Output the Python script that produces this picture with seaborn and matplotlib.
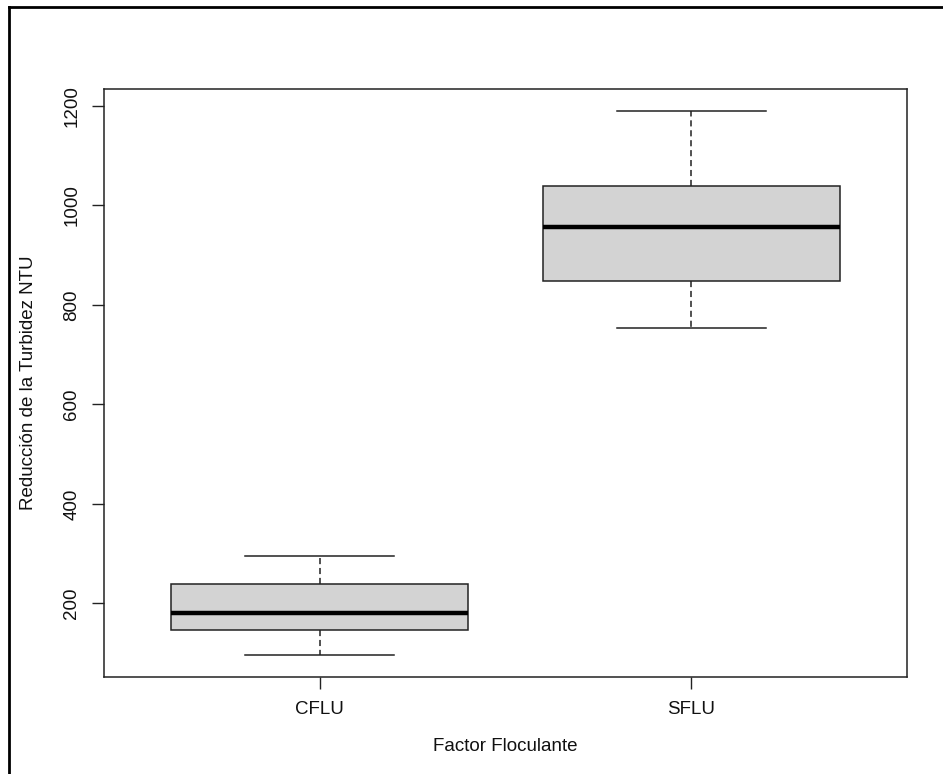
import matplotlib
matplotlib.use("Agg")
import matplotlib.pyplot as plt
import seaborn as sns
import pandas as pd
from matplotlib.lines import Line2D

# Data: five-number summaries (min, Q1, median, Q3, max)
categories = ["CFLU", "SFLU"]
cflu_values = [96, 146, 181, 240, 296]
sflu_values = [754, 847, 956, 1038, 1190]
y_ticks = [200, 400, 600, 800, 1000, 1200]

df = pd.DataFrame({
    "Factor Floculante": [categories[0]] * len(cflu_values) + [categories[1]] * len(sflu_values),
    "Reducción de la Turbidez NTU": cflu_values + sflu_values,
})

plt.rcParams["font.family"] = ["Liberation Sans", "DejaVu Sans"]

fig = plt.figure(figsize=(9.43, 7.74), dpi=100)
ax = fig.add_axes([104 / 943, 1 - 677 / 774, (907 - 104) / 943, (677 - 89) / 774])

sns.boxplot(
    data=df, x="Factor Floculante", y="Reducción de la Turbidez NTU",
    order=categories, color="#D3D3D3", linecolor="#222222", linewidth=1.1,
    width=0.8, whis=1.5, saturation=1, ax=ax,
    medianprops=dict(color="black", linewidth=3.2),
    whiskerprops=dict(linestyle=(0, (4, 2.5)), color="#222222"),
    capprops=dict(color="#222222"),
)

ax.set_xlim(-0.58, 1.58)
ax.set_ylim(52.2, 1233.8)
ax.set_yticks(y_ticks)
ax.set_yticklabels([str(t) for t in y_ticks], rotation=90, va="center")
for s in ax.spines.values():
    s.set_color("#222222")
    s.set_linewidth(1.1)
ax.tick_params(axis="both", direction="out", length=8.5, width=1.0, color="#222222",
               labelsize=13.5, pad=8.5, labelcolor="#111111")
ax.set_xlabel("Factor Floculante", fontsize=13.5, labelpad=15, color="#111111")
ax.set_ylabel("Reducción de la Turbidez NTU", fontsize=13.5, labelpad=19, color="#111111")

# Outer frame lines (left and top edges of the device border)
fig.add_artist(Line2D([9 / 943, 9 / 943], [0, 1 - 7 / 774], transform=fig.transFigure,
                      color="black", linewidth=2))
fig.add_artist(Line2D([9 / 943, 1], [1 - 7 / 774, 1 - 7 / 774], transform=fig.transFigure,
                      color="black", linewidth=2))

fig.savefig("out.png", dpi=100)
